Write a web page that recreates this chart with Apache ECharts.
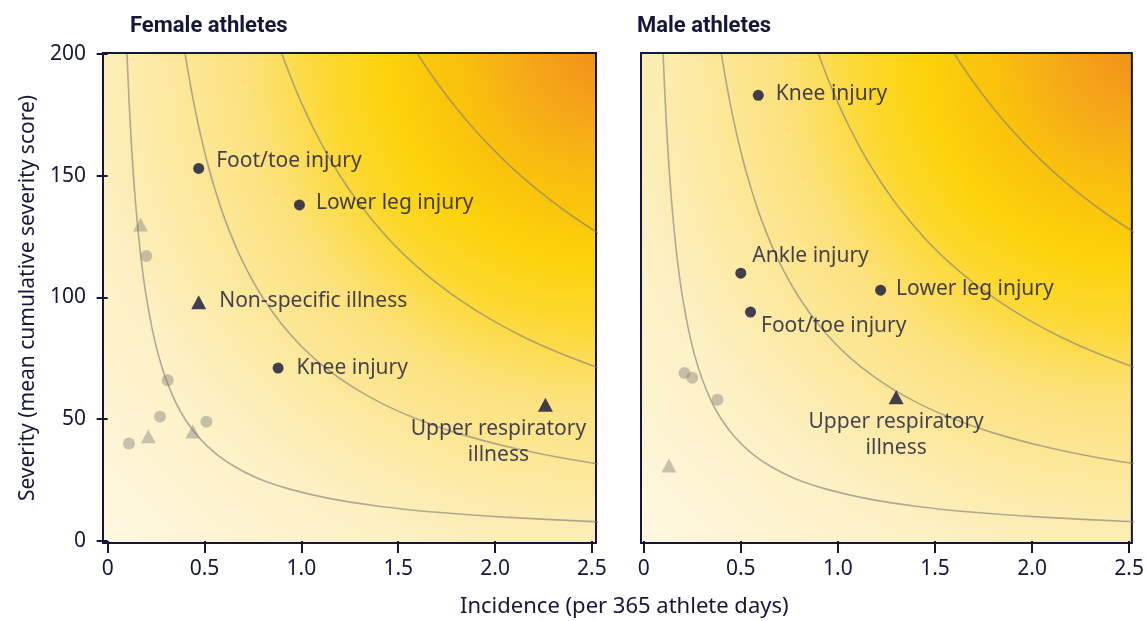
<!DOCTYPE html>
<html>
<head>
<meta charset="utf-8">
<title>Injury and illness burden by sex</title>
<script src="https://cdn.jsdelivr.net/npm/echarts@6/dist/echarts.min.js"></script>
<style>
  html, body { margin: 0; padding: 0; background: #fff; }
  #chart { width: 1147px; height: 621px; }
</style>
</head>
<body>
<div id="chart"></div>
<script>
// ------------------------------
// DATA
// ------------------------------
const xTicks = [0, 0.5, 1.0, 1.5, 2.0, 2.5];
const yTicks = [0, 50, 100, 150, 200];

// Female athletes, labelled conditions
const femaleInjuryNames = ["Foot/toe injury", "Lower leg injury", "Knee injury"];
const femaleInjuryX = [0.47, 0.99, 0.88];
const femaleInjuryY = [153, 138, 71];
const femaleIllnessNames = ["Non-specific illness", "Upper respiratory\nillness"];
const femaleIllnessX = [0.47, 2.26];
const femaleIllnessY = [98, 56];
// Female athletes, other (grey) conditions
const femaleOtherInjuryX = [0.20, 0.31, 0.27, 0.11, 0.51];
const femaleOtherInjuryY = [117, 66, 51, 40, 49];
const femaleOtherIllnessX = [0.17, 0.21, 0.44];
const femaleOtherIllnessY = [130, 43, 45];

// Male athletes, labelled conditions
const maleInjuryNames = ["Knee injury", "Ankle injury", "Lower leg injury", "Foot/toe injury"];
const maleInjuryX = [0.59, 0.50, 1.22, 0.55];
const maleInjuryY = [183, 110, 103, 94];
const maleIllnessNames = ["Upper respiratory\nillness"];
const maleIllnessX = [1.30];
const maleIllnessY = [59];
// Male athletes, other (grey) conditions
const maleOtherInjuryX = [0.21, 0.25, 0.38];
const maleOtherInjuryY = [69, 67, 58];
const maleOtherIllnessX = [0.13];
const maleOtherIllnessY = [31];

// Burden iso-lines, points
const curve1X = [0.10, 0.105, 0.11, 0.12, 0.13, 0.14, 0.16, 0.18, 0.20, 0.23, 0.26, 0.30, 0.35, 0.40, 0.47, 0.55, 0.65, 0.78, 0.95, 1.15, 1.40, 1.70, 2.05, 2.55];
const curve1Y = [200, 190.5, 181.8, 166.7, 153.8, 142.9, 125, 111.1, 100, 87, 76.9, 66.7, 57.1, 50, 42.6, 36.4, 30.8, 25.6, 21.1, 17.4, 14.3, 11.8, 9.8, 7.8];
const curve2X = [0.40, 0.42, 0.45, 0.48, 0.52, 0.56, 0.60, 0.66, 0.72, 0.80, 0.90, 1.00, 1.12, 1.26, 1.42, 1.60, 1.80, 2.05, 2.30, 2.55];
const curve2Y = [200, 190.5, 177.8, 166.7, 153.8, 142.9, 133.3, 121.2, 111.1, 100, 88.9, 80, 71.4, 63.5, 56.3, 50, 44.4, 39, 34.8, 31.4];
const curve3X = [0.90, 0.95, 1.00, 1.06, 1.13, 1.20, 1.28, 1.37, 1.47, 1.58, 1.70, 1.83, 1.98, 2.15, 2.33, 2.55];
const curve3Y = [200, 189.5, 180, 169.8, 159.3, 150, 140.6, 131.4, 122.4, 113.9, 105.9, 98.4, 90.9, 83.7, 77.3, 70.6];
const curve4X = [1.60, 1.66, 1.73, 1.80, 1.88, 1.96, 2.05, 2.15, 2.26, 2.38, 2.55];
const curve4Y = [200, 192.8, 185, 177.8, 170.2, 163.3, 156.1, 148.8, 141.6, 134.5, 125.5];

// ------------------------------
// STYLE
// ------------------------------
const navy = "#14163a";
const markColor = "#10133a";
const curveColor = "rgba(128,126,120,0.62)";
const greyColor = "rgba(130,128,120,0.55)";
const font = "Noto Sans";

const gridTop = 53;
const gridHeight = 490;
const panels = [{ left: 103, width: 493 }, { left: 641, width: 491 }];

// label placement per panel / condition
const labelPlacement = {
  "F|Foot/toe injury": { position: "right", distance: 12, offset: [0, -7] },
  "F|Lower leg injury": { position: "right", distance: 11, offset: [0, -2] },
  "F|Knee injury": { position: "right", distance: 13, offset: [0, 0] },
  "F|Non-specific illness": { position: "right", distance: 13, offset: [0, -1] },
  "F|Upper respiratory\nillness": { position: "bottom", distance: 4, offset: [-47, 0], align: "center" },
  "M|Knee injury": { position: "right", distance: 12, offset: [0, -1] },
  "M|Ankle injury": { position: "right", distance: 6, offset: [0, -17] },
  "M|Lower leg injury": { position: "right", distance: 10, offset: [0, -1] },
  "M|Foot/toe injury": { position: "right", distance: 5, offset: [0, 14] },
  "M|Upper respiratory\nillness": { position: "bottom", distance: 5, offset: [0, 0], align: "center" }
};

// burden shading: orange at high incidence x severity, cream near the axes
let bgGradient = () => ({
  type: "radial", x: 1, y: 0, r: 1.42,
  colorStops: [
    { offset: 0, color: "#f29218" },
    { offset: 0.1, color: "#f5a818" },
    { offset: 0.2, color: "#f9c10c" },
    { offset: 0.3, color: "#fcd20a" },
    { offset: 0.38, color: "#fcd82c" },
    { offset: 0.5, color: "#fce17c" },
    { offset: 0.62, color: "#fce99f" },
    { offset: 0.74, color: "#fdf0c2" },
    { offset: 1, color: "#fef8e2" }
  ]
});

// ------------------------------
// HELPERS
// ------------------------------
let toPoints = (xs, ys) => xs.map((x, i) => [x, ys[i]]);

let toLabelled = (panel, xs, ys, names) => xs.map((x, i) => {
  let p = labelPlacement[panel + "|" + names[i]];
  return {
    name: names[i],
    value: [x, ys[i]],
    label: { show: true, position: p.position, distance: p.distance, offset: p.offset, align: p.align }
  };
});

let curveSeries = idx => [[curve1X, curve1Y], [curve2X, curve2Y], [curve3X, curve3Y], [curve4X, curve4Y]].map(c => ({
  type: "line", xAxisIndex: idx, yAxisIndex: idx,
  data: toPoints(c[0], c[1]),
  smooth: 0.3, symbol: "none", silent: true, z: 2,
  lineStyle: { color: curveColor, width: 1.6 }
}));

let labelStyle = {
  show: true, formatter: "{b}", color: navy, fontFamily: font, fontSize: 21, lineHeight: 26
};

let panelSeries = (idx, panel, d) => [
  ...curveSeries(idx),
  { type: "scatter", xAxisIndex: idx, yAxisIndex: idx, symbol: "circle", symbolSize: 12, z: 3,
    data: toPoints(d.otherInjX, d.otherInjY), itemStyle: { color: greyColor } },
  { type: "scatter", xAxisIndex: idx, yAxisIndex: idx, symbol: "triangle", symbolSize: [15, 14], z: 3,
    data: toPoints(d.otherIllX, d.otherIllY), itemStyle: { color: greyColor } },
  { type: "scatter", xAxisIndex: idx, yAxisIndex: idx, symbol: "circle", symbolSize: 11, z: 4,
    data: toLabelled(panel, d.injX, d.injY, d.injNames), itemStyle: { color: markColor }, label: labelStyle },
  { type: "scatter", xAxisIndex: idx, yAxisIndex: idx, symbol: "triangle", symbolSize: [15, 14], z: 4,
    data: toLabelled(panel, d.illX, d.illY, d.illNames), itemStyle: { color: markColor }, label: labelStyle }
];

let xAxisFor = (idx, min, max) => ({
  type: "value", gridIndex: idx, min: min, max: max,
  axisLine: { show: false }, splitLine: { show: false },
  axisTick: { show: true, length: 12, customValues: xTicks, lineStyle: { color: navy, width: 2 } },
  axisLabel: {
    customValues: xTicks, margin: 16, color: navy, fontFamily: font, fontSize: 21,
    formatter: v => (v === 0 ? "0" : v.toFixed(1))
  }
});

let yAxisFor = (idx, withLabels) => ({
  type: "value", gridIndex: idx, min: -0.82, max: 200.4,
  axisLine: { show: false }, splitLine: { show: false },
  axisTick: { show: withLabels, length: 11, customValues: yTicks, lineStyle: { color: navy, width: 2 } },
  axisLabel: { show: withLabels, customValues: yTicks, margin: 17, color: navy, fontFamily: font, fontSize: 21 },
  name: withLabels ? "Severity (mean cumulative severity score)" : "",
  nameLocation: "middle", nameGap: 64, nameRotate: 90,
  nameTextStyle: { color: navy, fontFamily: font, fontSize: 21 }
});

let gridFor = p => ({
  left: p.left, top: gridTop, width: p.width, height: gridHeight,
  show: true, borderColor: navy, borderWidth: 2, backgroundColor: bgGradient()
});

// ------------------------------
// CHART
// ------------------------------
let chart = echarts.init(document.getElementById("chart"), null, { renderer: "canvas" });

let female = {
  injNames: femaleInjuryNames, injX: femaleInjuryX, injY: femaleInjuryY,
  illNames: femaleIllnessNames, illX: femaleIllnessX, illY: femaleIllnessY,
  otherInjX: femaleOtherInjuryX, otherInjY: femaleOtherInjuryY,
  otherIllX: femaleOtherIllnessX, otherIllY: femaleOtherIllnessY
};
let male = {
  injNames: maleInjuryNames, injX: maleInjuryX, injY: maleInjuryY,
  illNames: maleIllnessNames, illX: maleIllnessX, illY: maleIllnessY,
  otherInjX: maleOtherInjuryX, otherInjY: maleOtherInjuryY,
  otherIllX: maleOtherIllnessX, otherIllY: maleOtherIllnessY
};

let titleStyle = { color: navy, fontFamily: "Roboto", fontWeight: "bold", fontSize: 22 };

chart.setOption({
  animation: false,
  backgroundColor: "#fff",
  title: [
    { text: "Female athletes", left: 130, top: 15, padding: 0, textStyle: titleStyle },
    { text: "Male athletes", left: 637, top: 15, padding: 0, textStyle: titleStyle },
    { text: "Incidence (per 365 athlete days)", left: 460, top: 596, padding: 0,
      textStyle: { color: navy, fontFamily: font, fontWeight: "normal", fontSize: 22 } }
  ],
  grid: [gridFor(panels[0]), gridFor(panels[1])],
  xAxis: [xAxisFor(0, -0.024, 2.521), xAxisFor(1, -0.014, 2.514)],
  yAxis: [yAxisFor(0, true), yAxisFor(1, false)],
  series: [...panelSeries(0, "F", female), ...panelSeries(1, "M", male)]
});
</script>
</body>
</html>
